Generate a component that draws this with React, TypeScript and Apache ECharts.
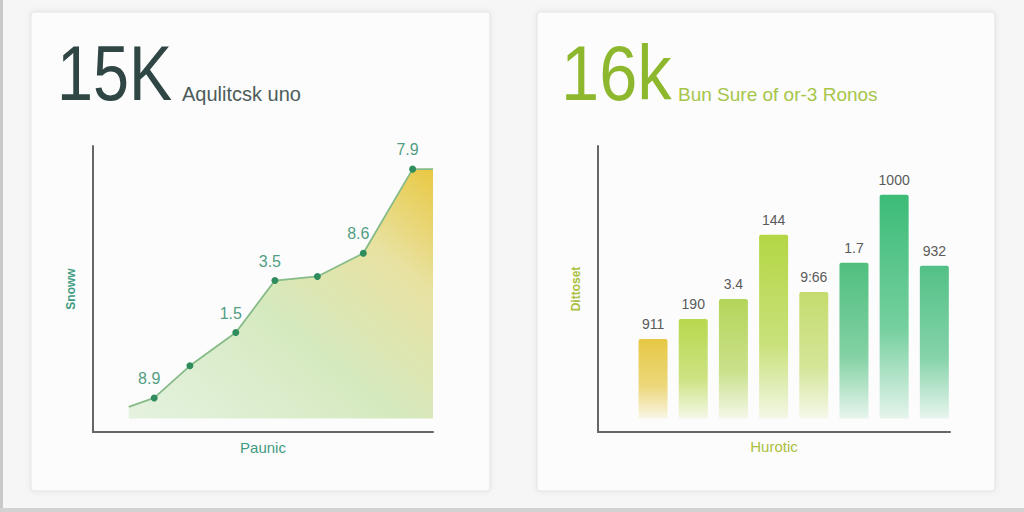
import React, { useEffect, useRef } from "react";
import * as echarts from "echarts";

// ---- Left card: area line ----
const leftTitle = "15K";
const leftSubtitle = "Aqulitcsk uno";
const leftXName = "Paunic";
const leftYName = "Snoww";
const lineX = [10.5, 18, 28.5, 42, 53.5, 66, 79.5, 94, 100];
const lineY = [4.2, 7.5, 19.3, 31.5, 50.6, 52.1, 60.6, 91.5, 91.5];
const lineLabels = ["", "8.9", "", "1.5", "3.5", "", "8.6", "7.9", ""];
const lineMarked = [false, true, true, true, true, true, true, true, false];

// ---- Right card: bars ----
const rightTitle = "16k";
const rightSubtitle = "Bun Sure of or-3 Ronos";
const rightXName = "Hurotic";
const rightYName = "Dittoset";
const barValues = [29.1, 36.5, 43.8, 67.4, 46.4, 57.1, 82.1, 56.0];
const barLabels = ["911", "190", "3.4", "144", "9:66", "1.7", "1000", "932"];
const barColors = ["#e6c845", "#b8d84e", "#b4d55a", "#b3d644", "#c4dc6e", "#4fbf7e", "#3cbc77", "#52c186"];

function fade(hex: string, a: number) {
  const r = parseInt(hex.slice(1, 3), 16);
  const g = parseInt(hex.slice(3, 5), 16);
  const b = parseInt(hex.slice(5, 7), 16);
  return `rgba(${r},${g},${b},${a})`;
}

export default function App() {
  const ref = useRef<HTMLDivElement>(null);
  useEffect(() => {
    if (!ref.current) return;
    const chart = echarts.init(ref.current, null, { renderer: "svg" });
    const font = "Liberation Sans, Arial, sans-serif";
    const axisLine = { show: true, onZero: false, lineStyle: { color: "#666", width: 2 } };
    const hidden = { axisTick: { show: false }, axisLabel: { show: false }, splitLine: { show: false } };

    const option: any = {
      animation: false,
      backgroundColor: "#f6f6f6",
      textStyle: { fontFamily: font },
      graphic: [
        { type: "rect", z: -10, shape: { x: 0, y: 0, width: 3, height: 512 }, style: { fill: "#c9c9c9" } },
        { type: "rect", z: -10, shape: { x: 0, y: 508, width: 1024, height: 4 }, style: { fill: "#d2d2d2" } },
        {
          type: "rect", z: -5,
          shape: { x: 31, y: 12, width: 459, height: 479, r: 3 },
          style: { fill: "#fcfcfc", stroke: "#e3e3e3", lineWidth: 1, shadowBlur: 6, shadowColor: "rgba(0,0,0,0.07)" },
        },
        {
          type: "rect", z: -5,
          shape: { x: 537, y: 12, width: 458, height: 479, r: 3 },
          style: { fill: "#fcfcfc", stroke: "#e3e3e3", lineWidth: 1, shadowBlur: 6, shadowColor: "rgba(0,0,0,0.07)" },
        },
        {
          type: "text", x: 57, y: 112, scaleX: 0.83,
          style: { text: leftTitle, fontFamily: font, fontSize: 78, fill: "#2f4644", verticalAlign: "bottom" },
        },
        {
          type: "text", x: 182, y: 104,
          style: { text: leftSubtitle, fontFamily: font, fontSize: 20, fill: "#4d5c5a", verticalAlign: "bottom" },
        },
        {
          type: "text", x: 561, y: 112, scaleX: 0.88,
          style: { text: rightTitle, fontFamily: font, fontSize: 78, fill: "#8db82e", verticalAlign: "bottom" },
        },
        {
          type: "text", x: 678, y: 104,
          style: { text: rightSubtitle, fontFamily: font, fontSize: 19, fill: "#a6c548", verticalAlign: "bottom" },
        },
      ],
      grid: [
        { left: 93, top: 146, width: 340, height: 286 },
        { left: 598, top: 146, width: 352, height: 286 },
      ],
      xAxis: [
        {
          gridIndex: 0, type: "value", min: 0, max: 100, axisLine, ...hidden,
          name: leftXName, nameLocation: "middle", nameGap: 8,
          nameTextStyle: { color: "#3f9a80", fontSize: 15, fontFamily: font },
        },
        {
          gridIndex: 1, type: "value", min: -1.37, max: 7.39, axisLine, ...hidden,
          name: rightXName, nameLocation: "middle", nameGap: 7,
          nameTextStyle: { color: "#a9c040", fontSize: 15, fontFamily: font },
        },
      ],
      yAxis: [
        {
          gridIndex: 0, type: "value", min: -5, max: 100, axisLine, ...hidden,
          name: leftYName, nameLocation: "middle", nameGap: 16,
          nameTextStyle: { color: "#3f9a80", fontSize: 12, fontFamily: font, fontWeight: "bold" },
        },
        {
          gridIndex: 1, type: "value", min: -5, max: 100, axisLine, ...hidden,
          name: rightYName, nameLocation: "middle", nameGap: 16,
          nameTextStyle: { color: "#a9c040", fontSize: 12, fontFamily: font, fontWeight: "bold" },
        },
      ],
      series: [
        {
          type: "line",
          xAxisIndex: 0, yAxisIndex: 0,
          data: lineX.map((x, i) => ({
            value: [x, lineY[i]],
            symbol: lineMarked[i] ? "circle" : "none",
            label: { show: lineLabels[i] !== "" },
          })),
          symbolSize: 7,
          lineStyle: { color: "#86bb88", width: 1.8 },
          itemStyle: { color: "#2f8c5c" },
          label: {
            position: "top", distance: 8, offset: [-5, 0],
            color: "#529e84", fontSize: 16, fontFamily: font,
            formatter: (p: any) => lineLabels[p.dataIndex],
          },
          areaStyle: {
            opacity: 1,
            color: new echarts.graphic.LinearGradient(0, 1, 1, 0, [
              { offset: 0, color: "rgba(226,241,220,0.9)" },
              { offset: 0.45, color: "#d5e9be" },
              { offset: 0.75, color: "#e8e2a2" },
              { offset: 1, color: "#e9c843" },
            ]),
          },
        },
        {
          type: "bar",
          xAxisIndex: 1, yAxisIndex: 1,
          barWidth: 29,
          data: barValues.map((v, i) => ({
            value: [i, v],
            itemStyle: {
              borderRadius: [2, 2, 0, 0],
              color: new echarts.graphic.LinearGradient(0, 0, 0, 1, [
                { offset: 0, color: barColors[i] },
                { offset: 0.6, color: fade(barColors[i], 0.7) },
                { offset: 1, color: fade(barColors[i], 0.12) },
              ]),
            },
          })),
          label: {
            show: true, position: "top", distance: 8,
            color: "#5a5a5a", fontSize: 14, fontFamily: font,
            formatter: (p: any) => barLabels[p.dataIndex],
          },
        },
      ],
    };
    chart.setOption(option);
    return () => chart.dispose();
  }, []);
  return <div ref={ref} style={{ position: "absolute", left: 0, top: 0, width: 1024, height: 512 }} />;
}
